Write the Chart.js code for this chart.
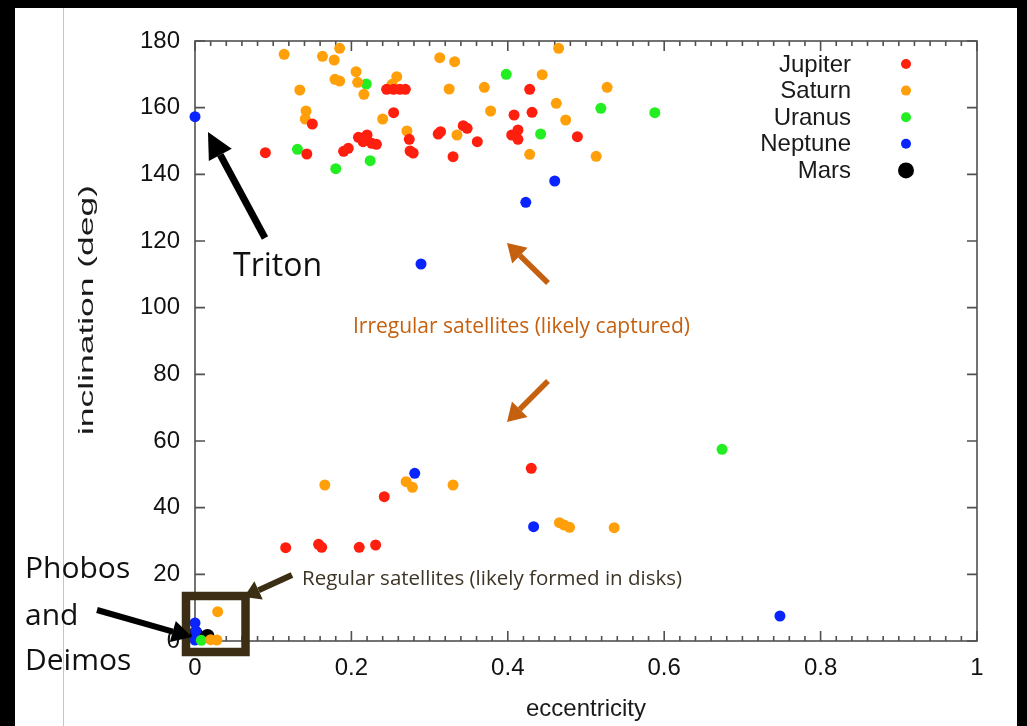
<!DOCTYPE html>
<html lang="en">
<head>
<meta charset="UTF-8" />
<title>Satellite eccentricity vs inclination</title>
<style>
  html, body { margin: 0; padding: 0; background: #fff; overflow: hidden; }
  #wrap { position: relative; width: 1027px; height: 726px; }
  .bar { position: absolute; background: #000; }
  #chart { position: absolute; left: 0; top: 0; }
</style>
</head>
<body>
<div id="wrap">
  <div class="bar" style="left:0;top:0;width:1027px;height:8px"></div>
  <div class="bar" style="left:0;top:0;width:15px;height:726px"></div>
  <div class="bar" style="left:1017px;top:0;width:10px;height:726px"></div>
  <div style="position:absolute;left:63px;top:8px;width:1px;height:718px;background:#c4c4c4"></div>
  <canvas id="chart" width="1027" height="726"></canvas>
</div>

<script src="https://cdn.jsdelivr.net/npm/chart.js"></script>
<script>
  // [eccentricity, inclination (deg)]
  const jupiter = [
    [0.245,165.5],[0.254,165.5],[0.262,165.5],[0.269,165.5],[0.150,155.1],[0.254,158.5],
    [0.274,150.5],[0.209,151.1],[0.220,151.8],[0.215,149.8],[0.226,149.3],[0.232,149.0],
    [0.090,146.5],[0.143,146.1],[0.190,146.9],[0.196,147.8],[0.275,147.0],[0.279,146.4],
    [0.428,165.5],[0.408,157.8],[0.431,158.6],[0.311,152.1],[0.314,152.8],[0.343,154.6],
    [0.348,153.8],[0.361,149.8],[0.405,151.8],[0.413,153.3],[0.413,150.5],[0.489,151.3],
    [0.330,145.3],
    [0.430,51.8],[0.242,43.3],[0.116,28.0],[0.158,29.0],[0.162,28.1],[0.210,28.1],[0.231,28.8]
  ];
  const saturn = [
    [0.114,176.0],[0.163,175.4],[0.185,177.8],[0.178,174.3],[0.206,170.8],[0.179,168.5],
    [0.185,168.0],[0.208,167.6],[0.258,169.3],[0.252,167.0],[0.134,165.3],[0.216,164.0],
    [0.142,159.0],[0.141,156.6],[0.240,156.6],[0.271,153.0],[0.465,177.8],[0.313,175.0],
    [0.332,173.8],[0.444,169.9],[0.325,165.6],[0.370,166.1],[0.527,166.1],[0.462,161.3],
    [0.378,159.0],[0.474,156.3],[0.335,151.8],[0.428,146.0],[0.513,145.4],
    [0.166,46.8],[0.270,47.8],[0.278,46.1],[0.330,46.8],[0.466,35.5],[0.472,34.8],
    [0.479,34.1],[0.536,34.0],
    [0.029,8.8],[0.028,0.3],[0.020,0.4]
  ];
  const uranus = [
    [0.219,167.1],[0.131,147.5],[0.224,144.1],[0.180,141.7],[0.398,170.0],[0.519,159.8],
    [0.588,158.5],[0.442,152.1],[0.674,57.5],
    [0.008,0.2]
  ];
  const neptune = [
    [0.000,157.3],[0.460,138.0],[0.423,131.6],[0.289,113.1],[0.281,50.3],[0.433,34.3],
    [0.748,7.5],
    [0.000,5.4],[0.001,3.0],[0.000,0.3]
  ];
  const mars = [[0.001,2.3],[0.016,1.5]];

  const seriesNames = ['Jupiter', 'Saturn', 'Uranus', 'Neptune', 'Mars'];
  const seriesData = [jupiter, saturn, uranus, neptune, mars];
  const seriesColors = ['#ff1f0f', '#ffa00a', '#22ee22', '#0a24ff', '#000000'];
  const seriesRadius = [5.5, 5.5, 5.5, 5.5, 7];

  const xTicks = [0, 0.2, 0.4, 0.6, 0.8, 1];
  const yTicks = [0, 20, 40, 60, 80, 100, 120, 140, 160, 180];

  const tickFont = { family: 'Liberation Sans', size: 24 };

  function arrow(ctx, x1, y1, x2, y2, w, headLen, headW, color) {
    const a = Math.atan2(y2 - y1, x2 - x1);
    const bx = x2 - headLen * Math.cos(a), by = y2 - headLen * Math.sin(a);
    ctx.strokeStyle = color; ctx.lineWidth = w; ctx.lineCap = 'butt';
    ctx.beginPath(); ctx.moveTo(x1, y1); ctx.lineTo(bx, by); ctx.stroke();
    ctx.fillStyle = color;
    ctx.beginPath(); ctx.moveTo(x2, y2);
    ctx.lineTo(bx + headW * Math.sin(a), by - headW * Math.cos(a));
    ctx.lineTo(bx - headW * Math.sin(a), by + headW * Math.cos(a));
    ctx.closePath(); ctx.fill();
  }

  // gnuplot style frame with inward ticks
  const framePlugin = {
    id: 'frame',
    beforeDatasetsDraw(chart) {
      const { ctx, chartArea: ca, scales: { x, y } } = chart;
      ctx.save();
      ctx.strokeStyle = '#505050';
      ctx.lineWidth = 1.6;
      ctx.strokeRect(ca.left, ca.top, ca.right - ca.left, ca.bottom - ca.top);
      ctx.beginPath();
      for (let k = 0; k <= 50; k++) {
        const px = x.getPixelForValue(k / 50);
        const len = k % 10 === 0 ? 10 : 5;
        ctx.moveTo(px, ca.bottom); ctx.lineTo(px, ca.bottom - len);
        ctx.moveTo(px, ca.top); ctx.lineTo(px, ca.top + len);
      }
      yTicks.forEach(v => {
        const py = y.getPixelForValue(v);
        ctx.moveTo(ca.left, py); ctx.lineTo(ca.left + 10, py);
        ctx.moveTo(ca.right, py); ctx.lineTo(ca.right - 10, py);
      });
      ctx.stroke();

      // axis titles
      ctx.fillStyle = '#1a1a1a';
      ctx.font = '24px "Liberation Sans"';
      ctx.textAlign = 'center';
      ctx.textBaseline = 'alphabetic';
      ctx.fillText('eccentricity', (ca.left + ca.right) / 2, 716);

      ctx.font = '21px "Liberation Sans"';
      const t = 'inclination (deg)';
      const sx = 250 / ctx.measureText(t).width;
      ctx.translate(93, y.getPixelForValue(99.3));
      ctx.rotate(-Math.PI / 2);
      ctx.scale(sx, 1);
      ctx.fillText(t, 0, 0);
      ctx.restore();
    }
  };

  const legendPlugin = {
    id: 'keybox',
    afterDatasetsDraw(chart) {
      const { ctx, chartArea: ca } = chart;
      ctx.save();
      ctx.font = '24px "Liberation Sans"';
      ctx.textAlign = 'right';
      ctx.textBaseline = 'middle';
      chart.data.datasets.forEach((ds, k) => {
        const yy = ca.top + 23 + k * 26.6;
        ctx.fillStyle = '#1a1a1a';
        ctx.fillText(ds.label, ca.right - 126, yy + 1);
        ctx.fillStyle = ds.backgroundColor;
        ctx.beginPath();
        ctx.arc(ca.right - 71, yy, k === 4 ? 8 : 5, 0, Math.PI * 2);
        ctx.fill();
      });
      ctx.restore();
    }
  };

  // slide annotations, anchored in data units
  const notePlugin = {
    id: 'notes',
    afterDraw(chart) {
      const { ctx, scales: { x, y } } = chart;
      const P = (e, i) => [x.getPixelForValue(e), y.getPixelForValue(i)];
      const W = de => x.getPixelForValue(de) - x.getPixelForValue(0);
      ctx.save();

      // Triton
      ctx.fillStyle = '#111';
      ctx.font = '32px "Open Sans"';
      ctx.textAlign = 'left';
      ctx.textBaseline = 'alphabetic';
      let p = P(0.0486, 109.5);
      ctx.fillText('Triton', p[0], p[1]);
      let a = P(0.0895, 120.9), b = P(0.0166, 152.7);
      arrow(ctx, a[0], a[1], b[0], b[1], 7, 26, 13, '#000');

      // irregular
      ctx.fillStyle = '#c5600f';
      ctx.font = '21px "Open Sans"';
      p = P(0.202, 92.4);
      ctx.fillText('Irregular satellites (likely captured)', p[0], p[1], W(0.431));
      a = P(0.4514, 107.4); b = P(0.399, 119.4);
      arrow(ctx, a[0], a[1], b[0], b[1], 5.5, 18, 11, '#c5600f');
      a = P(0.4514, 78); b = P(0.399, 65.7);
      arrow(ctx, a[0], a[1], b[0], b[1], 5.5, 18, 11, '#c5600f');

      // regular
      ctx.fillStyle = '#3d3526';
      ctx.font = '20.5px "Open Sans"';
      p = P(0.1368, 16.8);
      ctx.fillText('Regular satellites (likely formed in disks)', p[0], p[1], W(0.492));
      a = P(0.124, 19.8); b = P(0.0627, 13.2);
      arrow(ctx, a[0], a[1], b[0], b[1], 6, 16, 10, '#3b2e14');

      // box around regular satellites
      a = P(-0.0115, 13.5); b = P(0.0646, -3.3);
      ctx.strokeStyle = '#3b2e14';
      ctx.lineWidth = 8.5;
      ctx.strokeRect(a[0], a[1], b[0] - a[0], b[1] - a[1]);

      // Phobos and Deimos
      ctx.fillStyle = '#111';
      ctx.font = '30px "Open Sans"';
      p = P(-0.2174, 18.9); ctx.fillText('Phobos', p[0], p[1]);
      p = P(-0.2174, 4.8); ctx.fillText('and', p[0], p[1]);
      p = P(-0.2174, -8.7); ctx.fillText('Deimos', p[0], p[1]);
      a = P(-0.1253, 9.3); b = P(-0.0038, 1.2);
      arrow(ctx, a[0], a[1], b[0], b[1], 6, 20, 11, '#000');

      ctx.restore();
    }
  };

  new Chart(document.getElementById('chart'), {
    type: 'scatter',
    data: {
      datasets: seriesNames.map((name, k) => ({
        label: name,
        data: seriesData[k].map(([e, i]) => ({ x: e, y: i })),
        backgroundColor: seriesColors[k],
        borderWidth: 0,
        pointRadius: seriesRadius[k],
        pointHoverRadius: seriesRadius[k],
        clip: false
      }))
    },
    options: {
      responsive: false,
      animation: false,
      devicePixelRatio: 1,
      layout: { padding: { top: 41, right: 50, left: 0, bottom: 0 } },
      plugins: { legend: { display: false }, tooltip: { enabled: false } },
      scales: {
        x: {
          type: 'linear', min: 0, max: 1,
          afterBuildTicks: s => { s.ticks = xTicks.map(v => ({ value: v })); },
          afterFit: s => { s.height = 85; },
          grid: { display: false, drawTicks: false },
          border: { display: false },
          ticks: { font: tickFont, color: '#111', padding: 13, maxRotation: 0, callback: v => String(v) }
        },
        y: {
          type: 'linear', min: 0, max: 180,
          afterBuildTicks: s => { s.ticks = yTicks.map(v => ({ value: v })); },
          afterFit: s => { s.width = 195; },
          grid: { display: false, drawTicks: false },
          border: { display: false },
          ticks: { font: tickFont, color: '#111', padding: 15, callback: v => String(v) }
        }
      }
    },
    plugins: [framePlugin, legendPlugin, notePlugin]
  });
</script>
</body>
</html>
